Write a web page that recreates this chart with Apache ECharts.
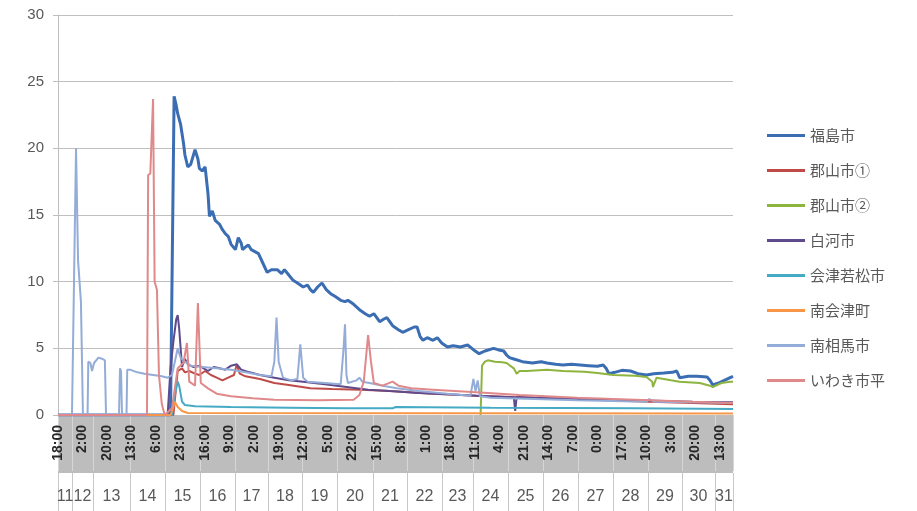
<!DOCTYPE html>
<html>
<head>
<meta charset="utf-8">
<script src="https://cdn.jsdelivr.net/npm/echarts@6/dist/echarts.min.js"></script>
<style>
  html, body { margin: 0; padding: 0; background: #fff; }
  #chart { width: 917px; height: 511px; }
</style>
</head>
<body>
<div id="chart"></div>
<script>
// x is the sample index (one tick label every 17 samples)
const timeLabels = ["18:00", "2:00", "20:00", "13:00", "6:00", "23:00", "16:00", "9:00", "2:00", "19:00",
  "12:00", "5:00", "22:00", "15:00", "8:00", "1:00", "18:00", "11:00", "4:00", "21:00",
  "14:00", "7:00", "0:00", "17:00", "10:00", "3:00", "20:00", "13:00"]
const dayLabels = ["11", "12", "13", "14", "15", "16", "17", "18", "19", "20", "21",
  "22", "23", "24", "25", "26", "27", "28", "29", "30", "31"]
const dayBounds = [0, 9.7, 24.3, 49.9, 74.2, 98.5, 122.7, 145.6, 169.2, 193.4, 218.4,
  242, 266.2, 287.7, 312, 336.3, 360.5, 384.8, 409, 432.6, 455.5, 468]

const names = ["福島市", "郡山市①", "郡山市②", "白河市", "会津若松市", "南会津町", "南相馬市", "いわき市平"]
const colors = ["#3b6db3", "#be4b48", "#8db43e", "#5f4a8b", "#46aac5", "#f79646", "#93acd8", "#e0898a"]

const fukushima = [[0, 0], [78, 0], [80.5, 23.9], [82, 23.2], [83, 22.6], [85, 21.8], [86, 21.1], [87, 20.4],
  [88, 19.5], [90, 18.6], [92, 18.8], [95, 19.9], [97, 19.2], [98, 18.5], [100, 18.3], [102, 18.6], [104, 16.6],
  [105, 14.9], [107, 15.3], [109, 14.6], [112, 14.3], [114, 13.9], [116, 13.6], [118, 13.4], [120, 12.8],
  [123, 12.4], [125, 13.3], [127, 12.9], [128, 12.4], [130, 12.6], [132, 12.75], [134, 12.4], [139, 12.1],
  [142, 11.4], [145, 10.7], [148, 10.9], [152, 10.9], [155, 10.6], [157, 10.9], [160, 10.5], [163, 10.1],
  [166, 9.9], [170, 9.6], [173, 9.75], [175, 9.4], [177, 9.2], [180, 9.6], [183, 9.9], [186, 9.4], [189, 9.1],
  [192, 8.9], [196, 8.6], [199, 8.5], [201, 8.6], [205, 8.3], [209, 7.9], [213, 7.6], [216, 7.4], [219, 7.6],
  [223, 7.0], [226, 7.2], [228, 7.3], [232, 6.7], [236, 6.4], [239, 6.2], [243, 6.4], [247, 6.6], [249, 6.6],
  [251, 5.9], [253, 5.6], [256, 5.8], [260, 5.6], [263, 5.8], [266, 5.4], [270, 5.1], [274, 5.2], [279, 5.1],
  [284, 5.25], [288, 4.9], [292, 4.6], [296, 4.8], [302, 5.0], [305, 4.9], [309, 4.8], [311, 4.5], [313, 4.3],
  [316, 4.2], [322, 4.0], [329, 3.9], [335, 4.0], [339, 3.9], [345, 3.8], [350, 3.75], [356, 3.8], [362, 3.75],
  [368, 3.7], [374, 3.65], [378, 3.75], [380, 3.5], [382, 3.1], [386, 3.2], [391, 3.35], [397, 3.3], [402, 3.1],
  [408, 3.0], [413, 3.1], [420, 3.15], [426, 3.2], [429, 3.3], [431, 2.8], [437, 2.9], [443, 2.9], [450, 2.85],
  [452, 2.6], [454, 2.25], [458, 2.4], [462, 2.6], [466, 2.8], [468, 2.9]]
const koriyama1 = [[0, 0], [80, 0], [83, 3.3], [86, 3.5], [88, 3.2], [91, 3.3], [95, 3.1], [98, 3.0], [102, 3.3],
  [106, 3.0], [110, 2.8], [114, 2.6], [118, 2.8], [122, 3.0], [124, 3.8], [126, 3.1], [130, 2.9], [140, 2.7],
  [150, 2.4], [160, 2.25], [175, 2.0], [190, 1.95], [210, 1.9], [230, 1.8], [260, 1.6], [290, 1.45], [330, 1.3],
  [370, 1.15], [410, 1.0], [440, 0.9], [468, 0.8]]
const koriyama2 = [[293, 0], [294, 3.7], [296, 4.0], [298, 4.1], [303, 4.0], [308, 3.95], [311, 3.9], [316, 3.5],
  [318, 3.1], [320, 3.3], [325, 3.3], [339, 3.4], [350, 3.3], [365, 3.25], [374, 3.15], [385, 3.0], [400, 2.95],
  [408, 2.85], [412, 2.5], [412.5, 2.1], [415, 2.8], [425, 2.6], [431, 2.5], [445, 2.4], [452, 2.2], [454, 2.1],
  [460, 2.4], [466, 2.5], [468, 2.5]]
const shirakawa = [[0, 0], [76, 0], [78, 3.5], [80, 5.5], [82, 7.2], [83, 7.5], [84, 6.5], [86, 3.6], [88, 4.2],
  [90, 3.8], [94, 3.6], [98, 3.7], [101, 3.5], [104, 3.3], [108, 3.6], [112, 3.5], [116, 3.4], [120, 3.7],
  [124, 3.8], [127, 3.4], [133, 3.2], [140, 3.0], [150, 2.8], [160, 2.6], [170, 2.5], [185, 2.3], [200, 2.1],
  [215, 1.9], [230, 1.8], [250, 1.65], [270, 1.55], [290, 1.45], [310, 1.35], [316, 1.35], [317, 0.3],
  [318, 1.35], [330, 1.3], [360, 1.2], [400, 1.1], [440, 1.0], [468, 0.95]]
const aizu = [[0, 0], [79, 0], [81, 1.5], [83, 2.5], [84, 2.2], [86, 1.0], [88, 0.75], [95, 0.65], [120, 0.6],
  [160, 0.55], [200, 0.5], [232, 0.5], [234, 0.6], [300, 0.55], [400, 0.5], [468, 0.45]]
const minamiaizu = [[0, 0], [78, 0], [80, 0.6], [81, 1.0], [83, 0.6], [86, 0.3], [90, 0.15], [468, 0.12]]
const minamisoma = [[0, 0], [9.7, 0], [12.5, 20], [13.9, 11.6], [15.9, 8.5], [17.3, 0], [20.5, 0], [21, 4.0],
  [22.5, 3.9], [23.6, 3.3], [25, 3.9], [26, 4.0], [28, 4.3], [31, 4.2], [32.5, 4.1], [33.3, 0], [42.3, 0],
  [43, 3.5], [43.7, 3.3], [44.4, 0], [47.5, 0], [48, 3.4], [50, 3.4], [55, 3.2], [60, 3.1], [66, 3.0], [72, 2.9],
  [76, 2.8], [79, 3.0], [81, 4.0], [83, 5.0], [85, 4.3], [88, 4.0], [92, 3.7], [100, 3.6], [110, 3.5],
  [120, 3.4], [130, 3.2], [140, 3.0], [148, 2.9], [150, 4.0], [151.5, 7.3], [153, 4.0], [156, 2.8], [162, 2.6],
  [166, 2.7], [168, 5.3], [170, 2.8], [173, 2.5], [185, 2.4], [196, 2.3], [198, 5.0], [199, 6.8], [200, 3.0],
  [201, 2.4], [207, 2.6], [209, 2.8], [211, 2.5], [216, 2.4], [225, 2.2], [235, 2.0], [250, 1.8], [270, 1.6],
  [286, 1.45], [288, 2.7], [289.5, 1.8], [291, 2.6], [292.5, 1.4], [300, 1.3], [330, 1.2], [360, 1.1],
  [408, 1.0], [410, 1.2], [413, 1.0], [440, 0.95], [468, 0.9]]
const iwaki = [[0, 0], [61.7, 0], [62.5, 18], [64, 18.1], [65.9, 23.7], [67, 10], [68.6, 9.4], [70, 3],
  [72, 0.8], [74, 0], [79, 0.5], [83, 3.5], [87, 3.9], [89.4, 5.4], [91, 2.5], [95, 2.2], [97, 8.4], [99, 2.4],
  [104, 2.0], [110, 1.6], [120, 1.4], [135, 1.25], [150, 1.15], [180, 1.1], [205, 1.15], [209, 1.5], [212, 2.5],
  [215, 6.0], [217, 4.0], [219, 2.4], [225, 2.2], [232, 2.5], [236, 2.2], [245, 2.0], [260, 1.9], [290, 1.7],
  [320, 1.5], [360, 1.3], [400, 1.15], [440, 1.0], [468, 0.9]]

const seriesData = [fukushima, koriyama1, koriyama2, shirakawa, aizu, minamiaizu, minamisoma, iwaki]
const dayMids = dayLabels.map((d, i) => (dayBounds[i] + dayBounds[i + 1]) / 2)

const chart = echarts.init(document.getElementById("chart"))
const numFont = "'Liberation Sans', 'Noto Sans CJK JP', sans-serif"

const option = {
  animation: false,
  backgroundColor: "#fff",
  color: colors,
  grid: { left: 58, right: 184, top: 15, bottom: 96 },
  legend: {
    orient: "vertical",
    left: 762,
    top: 123,
    itemWidth: 38,
    itemHeight: 3,
    itemGap: 20,
    icon: "rect",
    data: names,
    textStyle: { fontSize: 15, color: "#595959", fontFamily: "'Noto Sans CJK JP', sans-serif" }
  },
  graphic: [
    {
      type: "rect",
      z: -1,
      shape: { x: 58, y: 416, width: 675, height: 57 },
      style: { fill: "#bdbdbd" }
    }
  ],
  xAxis: [
    {
      type: "value",
      min: 0,
      max: 468,
      interval: 17,
      position: "bottom",
      axisLine: { show: true, lineStyle: { color: "#bfbfbf" } },
      axisTick: { show: false },
      splitLine: { show: false },
      axisLabel: {
        rotate: 90,
        margin: 10,
        fontSize: 14,
        fontWeight: "bold",
        color: "#262626",
        fontFamily: numFont,
        showMaxLabel: false,
        formatter: (v) => (v % 17 === 0 ? timeLabels[v / 17] || "" : "")
      }
    },
    {
      type: "value",
      min: 0,
      max: 468,
      position: "bottom",
      axisLine: { show: false },
      axisTick: { show: true, customValues: dayBounds, length: 56, lineStyle: { color: "#d6d6d6" } },
      axisLabel: { show: false },
      splitLine: { show: false }
    },
    {
      type: "value",
      min: 0,
      max: 468,
      position: "bottom",
      offset: 58,
      axisLine: { show: false },
      axisTick: { show: true, customValues: dayBounds, length: 38, lineStyle: { color: "#c8c8c8" } },
      axisLabel: {
        customValues: dayMids,
        margin: 16,
        fontSize: 16,
        color: "#595959",
        fontFamily: numFont,
        formatter: (v) => {
          let best = 0
          dayMids.forEach((m, i) => { if (Math.abs(m - v) < Math.abs(dayMids[best] - v)) best = i })
          return dayLabels[best]
        }
      },
      splitLine: { show: false }
    }
  ],
  yAxis: {
    type: "value",
    min: 0,
    max: 30,
    interval: 5,
    axisLine: { show: true, lineStyle: { color: "#bfbfbf" } },
    axisTick: { show: true, length: 5, lineStyle: { color: "#bfbfbf" } },
    splitLine: { lineStyle: { color: "#bfbfbf" } },
    axisLabel: { fontSize: 15, color: "#595959", margin: 14, fontFamily: numFont }
  },
  series: names.map((n, i) => ({
    name: n,
    type: "line",
    xAxisIndex: 0,
    showSymbol: false,
    symbol: "none",
    data: seriesData[i],
    lineStyle: { width: i === 0 ? 3 : 2, color: colors[i] },
    itemStyle: { color: colors[i] }
  }))
}
chart.setOption(option)
</script>
</body>
</html>
